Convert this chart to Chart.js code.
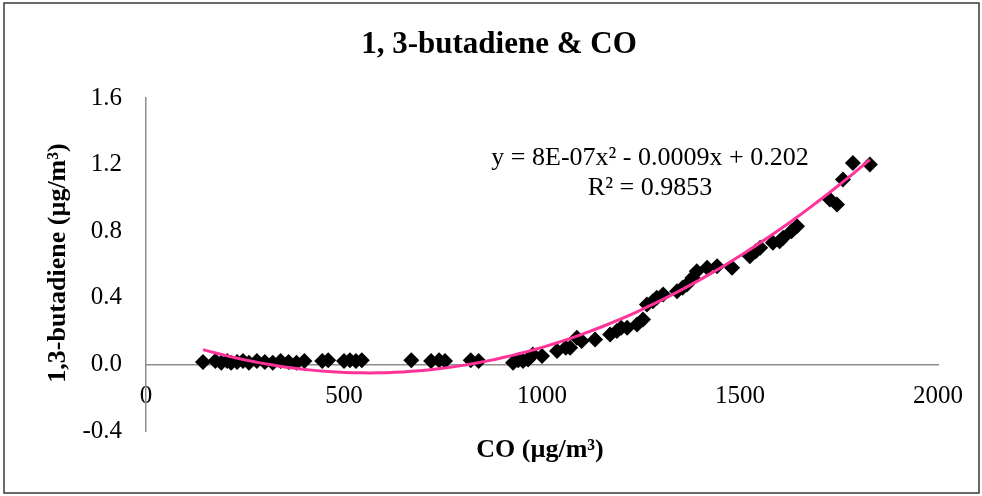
<!DOCTYPE html>
<html>
<head>
<meta charset="utf-8">
<script src="https://cdn.jsdelivr.net/npm/chart.js@4.4.1/dist/chart.umd.min.js"></script>
<style>
    html, body { margin: 0; padding: 0; background: #ffffff; }
    #wrap { width: 982px; height: 496px; }
</style>
</head>
<body>
<div id="wrap"><canvas id="scatter-chart"></canvas></div>
<script>
// CO concentration (µg/m³) and matching 1,3-butadiene (µg/m³)
const coValues = [
    144, 175, 190, 205, 215, 230, 245, 260, 280, 300, 320, 340, 360, 380, 400,
    445, 460, 500, 515, 530, 545, 670, 720, 740, 755, 820, 840,
    927, 940, 952, 965, 977, 1000, 1038, 1060, 1071, 1088, 1100, 1134, 1172, 1189,
    1200, 1215, 1240, 1255, 1265, 1280, 1290, 1306, 1341, 1355, 1366, 1380, 1391,
    1417, 1442, 1480, 1525, 1540, 1551, 1583, 1600, 1609, 1630, 1644, 1727, 1745,
    1760, 1785, 1828
];
const butadieneValues = [
    0.015, 0.02, 0.01, 0.02, 0.01, 0.015, 0.02, 0.01, 0.02, 0.015, 0.01, 0.02, 0.015, 0.01, 0.02,
    0.02, 0.025, 0.02, 0.025, 0.02, 0.025, 0.025, 0.02, 0.025, 0.02, 0.025, 0.02,
    0.01, 0.025, 0.02, 0.03, 0.06, 0.05, 0.08, 0.10, 0.10, 0.16, 0.14, 0.15, 0.18, 0.20,
    0.22, 0.22, 0.24, 0.27, 0.36, 0.38, 0.40, 0.42, 0.44, 0.46, 0.48, 0.52, 0.56,
    0.58, 0.59, 0.58, 0.65, 0.68, 0.70, 0.73, 0.74, 0.76, 0.80, 0.83, 0.99, 0.96,
    1.11, 1.21, 1.20
];

// polynomial trendline, order 2
const trendCoef = [0.202, -0.0009, 8e-7];
const trendLabel = 'y = 8E-07x² - 0.0009x + 0.202';
const r2Label = 'R² = 0.9853';

const xTicks = [0, 500, 1000, 1500, 2000];
const yTicks = [-0.4, 0.0, 0.4, 0.8, 1.2, 1.6];

const serif = '"Liberation Serif", "Times New Roman", serif';

let points = coValues.map((x, i) => ({x: x, y: butadieneValues[i]}));

let trendPoints = [];
let xMin = Math.min(...coValues);
let xMax = Math.max(...coValues);
for (let k = 0; k <= 80; k++) {
    let x = xMin + (xMax - xMin) * k / 80;
    trendPoints.push({x: x, y: trendCoef[0] + trendCoef[1] * x + trendCoef[2] * x * x});
}

// frame, title, axis titles and the equation box
const extraText = {
    id: 'extraText',
    beforeDraw(chart) {
        const ctx = chart.ctx;
        ctx.save();
        ctx.fillStyle = '#ffffff';
        ctx.fillRect(0, 0, chart.width, chart.height);
        ctx.strokeStyle = '#3a3a3a';
        ctx.lineWidth = 1.5;
        ctx.strokeRect(4, 3, 975, 490);
        ctx.restore();
    },
    afterDraw(chart) {
        const ctx = chart.ctx;
        ctx.save();
        ctx.fillStyle = '#000000';
        ctx.textAlign = 'center';
        ctx.textBaseline = 'middle';

        ctx.font = 'bold 31px ' + serif;
        ctx.fillText('1, 3-butadiene & CO', 499, 45);

        ctx.font = 'bold 26px ' + serif;
        ctx.fillText('CO (µg/m³)', 540, 450);

        ctx.save();
        ctx.translate(58, 263);
        ctx.rotate(-Math.PI / 2);
        ctx.fillText('1,3-butadiene (µg/m³)', 0, 0);
        ctx.restore();

        ctx.font = '26px ' + serif;
        ctx.fillText(trendLabel, 650, 158);
        ctx.fillText(r2Label, 650, 188);
        ctx.restore();
    }
};

let config = {
    type: 'scatter',
    data: {
        datasets: [
            {
                label: '1,3-butadiene',
                data: points,
                pointStyle: 'rectRot',
                pointRadius: 8,
                pointHoverRadius: 8,
                backgroundColor: '#000000',
                borderColor: '#000000',
                borderWidth: 0,
                order: 2
            },
            {
                label: 'Poly. trend',
                type: 'line',
                data: trendPoints,
                borderColor: '#ff3399',
                borderWidth: 3,
                pointRadius: 0,
                fill: false,
                tension: 0,
                order: 1
            }
        ]
    },
    options: {
        responsive: false,
        animation: false,
        layout: {
            padding: {top: 98, right: 44, bottom: 65, left: 0}
        },
        plugins: {
            legend: {display: false},
            title: {display: false},
            tooltip: {enabled: false}
        },
        scales: {
            x: {
                type: 'linear',
                position: {y: 0},
                min: 0,
                max: 2000,
                afterBuildTicks: (scale) => {
                    scale.ticks = xTicks.map(v => ({value: v}));
                },
                grid: {display: false, drawTicks: false},
                border: {display: true, color: '#8c8c8c', width: 1.5},
                ticks: {
                    color: '#000000',
                    padding: 17,
                    maxRotation: 0,
                    font: {family: serif, size: 25},
                    callback: (v) => String(v)
                }
            },
            y: {
                type: 'linear',
                min: -0.4,
                max: 1.6,
                afterBuildTicks: (scale) => {
                    scale.ticks = yTicks.map(v => ({value: v}));
                },
                afterFit: (scale) => {
                    scale.width = 146;
                },
                grid: {display: false, drawTicks: false},
                border: {display: true, color: '#8c8c8c', width: 1.5},
                ticks: {
                    color: '#000000',
                    padding: 24,
                    font: {family: serif, size: 25},
                    callback: (v) => v.toFixed(1)
                }
            }
        }
    },
    plugins: [extraText]
};

const canvas = document.getElementById('scatter-chart');
canvas.width = 982;
canvas.height = 496;
new Chart(canvas, config);
</script>
</body>
</html>
